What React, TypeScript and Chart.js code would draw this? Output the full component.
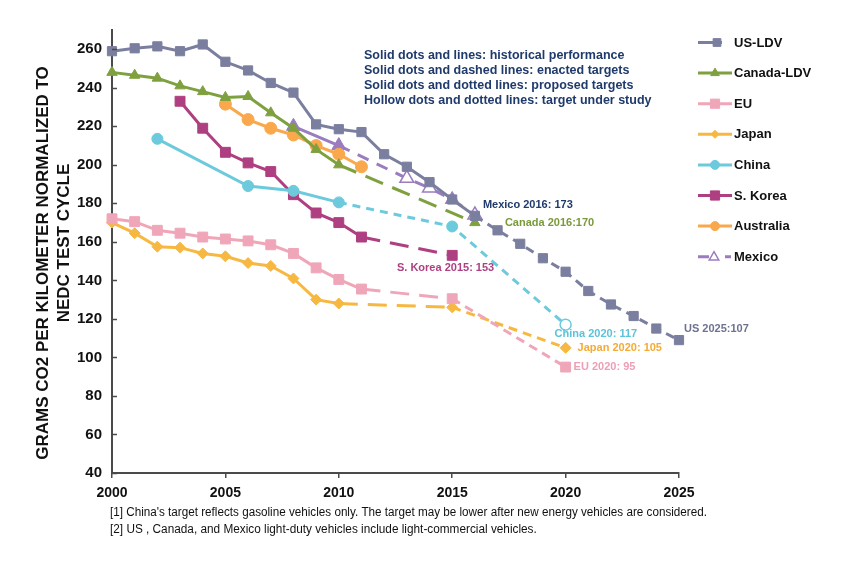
import React, { useEffect, useRef } from 'react';
import { Chart, registerables } from 'chart.js';

Chart.register(...registerables);

// ---------- data ----------
const usYears = [2000, 2001, 2002, 2003, 2004, 2005, 2006, 2007, 2008, 2009, 2010, 2011, 2012, 2013, 2014, 2015, 2016, 2017, 2018, 2019, 2020, 2021, 2022, 2023, 2024, 2025];
const usValues = [259, 260.5, 261.5, 259, 262.5, 253.5, 249, 242.5, 237.5, 221, 218.5, 217, 205.5, 199, 191, 182, 173.5, 166, 159, 151.5, 144.5, 134.5, 127.5, 121.5, 115, 109];

const canadaYears = [2000, 2001, 2002, 2003, 2004, 2005, 2006, 2007, 2008, 2009, 2010, 2016];
const canadaValues = [248, 246.5, 245, 241, 238, 235, 235.5, 227, 219, 208, 200, 170];

const euYears = [2000, 2001, 2002, 2003, 2004, 2005, 2006, 2007, 2008, 2009, 2010, 2011, 2015, 2020];
const euValues = [172, 170.5, 166, 164.5, 162.5, 161.5, 160.5, 158.5, 154, 146.5, 140.5, 135.5, 130.5, 95];

const japanYears = [2000, 2001, 2002, 2003, 2004, 2005, 2006, 2007, 2008, 2009, 2010, 2015, 2020];
const japanValues = [170, 164.5, 157.5, 157, 154, 152.5, 149, 147.5, 141, 130, 128, 126, 105];

const chinaYears = [2002, 2006, 2008, 2010, 2015, 2020];
const chinaValues = [213.5, 189, 186.5, 180.5, 168, 117];

const koreaYears = [2003, 2004, 2005, 2006, 2007, 2008, 2009, 2010, 2011, 2015];
const koreaValues = [233, 219, 206.5, 201, 196.5, 184.5, 175, 170, 162.5, 153];

const australiaYears = [2005, 2006, 2007, 2008, 2009, 2010, 2011];
const australiaValues = [231.5, 223.5, 219, 215.5, 210, 205.5, 199];

const mexicoYears = [2008, 2010, 2013, 2014, 2015, 2016];
const mexicoValues = [220, 210, 193, 188, 182, 174];

const chinaHollowYears = [2020];
const mexicoHollowYears = [2013, 2014, 2016];

const seriesNames = ['US-LDV', 'Canada-LDV', 'EU', 'Japan', 'China', 'S. Korea', 'Australia', 'Mexico'];
const xTickValues = [2000, 2005, 2010, 2015, 2020, 2025];
const yTickValues = [40, 60, 80, 100, 120, 140, 160, 180, 200, 220, 240, 260];

const noteLines = [
  'Solid dots and lines: historical performance',
  'Solid dots and dashed lines: enacted targets',
  'Solid dots and dotted lines: proposed targets',
  'Hollow dots and dotted lines: target under study',
];
const footnotes = [
  "[1] China's target reflects gasoline vehicles only. The target may be lower after new energy vehicles are considered.",
  '[2] US , Canada, and Mexico light-duty vehicles include light-commercial vehicles.',
];
const yTitleLines = ['GRAMS CO2 PER KILOMETER NORMALIZED TO', 'NEDC TEST CYCLE'];

// ---------- styles ----------
const FONT = '"Liberation Sans", Arial, Helvetica, sans-serif';
const LONG = [19, 10];
const SHORT = [9, 6];
const DOT = [8, 6];
const MEX = [12, 9];

type Series = {
  years: number[];
  values: number[];
  color: string;
  point: string;
  radius: number;
  dash: [number, number[]][];
  hollow: number[];
};

const seriesList: Series[] = [
  { years: usYears, values: usValues, color: '#7b7f9f', point: 'rect', radius: 6.5, dash: [[2016, SHORT]], hollow: [] },
  { years: canadaYears, values: canadaValues, color: '#7fa03f', point: 'triangle', radius: 6, dash: [[2010, LONG]], hollow: [] },
  { years: euYears, values: euValues, color: '#f0a6b9', point: 'rect', radius: 7, dash: [[2011, LONG], [2015, SHORT]], hollow: [] },
  { years: japanYears, values: japanValues, color: '#f7b842', point: 'rectRot', radius: 5.5, dash: [[2010, LONG], [2015, SHORT]], hollow: [] },
  { years: chinaYears, values: chinaValues, color: '#6ccadc', point: 'circle', radius: 5.5, dash: [[2010, DOT]], hollow: chinaHollowYears },
  { years: koreaYears, values: koreaValues, color: '#ae3f80', point: 'rect', radius: 7, dash: [[2011, LONG]], hollow: [] },
  { years: australiaYears, values: australiaValues, color: '#f9a94c', point: 'circle', radius: 6, dash: [], hollow: [] },
  { years: mexicoYears, values: mexicoValues, color: '#9a7cbf', point: 'triangle', radius: 8, dash: [[2010, MEX]], hollow: mexicoHollowYears },
];

function dashFor(rules: [number, number[]][], x: number): number[] {
  let d: number[] = [];
  for (const [from, pat] of rules) if (x >= from) d = pat;
  return d;
}

function drawMarker(ctx: CanvasRenderingContext2D, style: string, x: number, y: number, r: number, color: string, hollow: boolean) {
  ctx.save();
  ctx.beginPath();
  if (style === 'rect') {
    const s = r * Math.SQRT1_2;
    ctx.rect(x - s, y - s, 2 * s, 2 * s);
  } else if (style === 'rectRot') {
    ctx.moveTo(x - r, y);
    ctx.lineTo(x, y - r);
    ctx.lineTo(x + r, y);
    ctx.lineTo(x, y + r);
    ctx.closePath();
  } else if (style === 'triangle') {
    let a = 0;
    ctx.moveTo(x + Math.sin(a) * r, y - Math.cos(a) * r);
    a += (2 * Math.PI) / 3;
    ctx.lineTo(x + Math.sin(a) * r, y - Math.cos(a) * r);
    a += (2 * Math.PI) / 3;
    ctx.lineTo(x + Math.sin(a) * r, y - Math.cos(a) * r);
    ctx.closePath();
  } else {
    ctx.arc(x, y, r, 0, Math.PI * 2);
  }
  ctx.fillStyle = hollow ? '#ffffff' : color;
  ctx.fill();
  ctx.strokeStyle = color;
  ctx.lineWidth = hollow ? 1.5 : 1;
  ctx.stroke();
  ctx.restore();
}

const overlayPlugin = {
  id: 'overlay',
  afterDraw(chart: any) {
    const ctx: CanvasRenderingContext2D = chart.ctx;
    const xs = chart.scales.x;
    const ys = chart.scales.y;
    const area = chart.chartArea;
    ctx.save();

    // inner y tick marks
    ctx.strokeStyle = '#4a4a4a';
    ctx.lineWidth = 1.5;
    for (const v of yTickValues) {
      const py = Math.round(ys.getPixelForValue(v)) + 0.5;
      ctx.beginPath();
      ctx.moveTo(area.left, py);
      ctx.lineTo(area.left + 5, py);
      ctx.stroke();
    }

    // y axis title (two lines, rotated)
    ctx.save();
    ctx.translate(43, 263);
    ctx.rotate(-Math.PI / 2);
    ctx.fillStyle = '#111111';
    ctx.font = `bold 17px ${FONT}`;
    ctx.textAlign = 'center';
    ctx.textBaseline = 'middle';
    ctx.fillText(yTitleLines[0], 0, 0);
    ctx.fillText(yTitleLines[1], 20, 21);
    ctx.restore();

    // explanation notes
    ctx.fillStyle = '#1f3a6b';
    ctx.font = `bold 12.5px ${FONT}`;
    ctx.textAlign = 'left';
    ctx.textBaseline = 'middle';
    noteLines.forEach((t, i) => ctx.fillText(t, 364, 56 + i * 15));

    // point labels
    const px = (yr: number) => xs.getPixelForValue(yr);
    const py = (v: number) => ys.getPixelForValue(v);
    ctx.font = `bold 11px ${FONT}`;
    const lbl = (text: string, color: string, x: number, y: number, align: CanvasTextAlign = 'left') => {
      ctx.fillStyle = color;
      ctx.textAlign = align;
      ctx.fillText(text, x, y);
    };
    lbl('Mexico 2016: 173', '#1f3a6b', px(2016) + 8, py(173) - 12);
    lbl('Canada 2016:170', '#7a9a3a', px(2016) + 30, py(170) + 0);
    lbl('S. Korea 2015: 153', '#ae3f80', px(2015) + 42, py(153) + 13, 'right');
    lbl('China 2020: 117', '#5cc3d8', px(2020) - 11, py(117) + 9);
    lbl('Japan 2020: 105', '#f5ab35', px(2020) + 12, py(105));
    lbl('EU 2020: 95', '#ec9fb5', px(2020) + 8, py(95));
    lbl('US 2025:107', '#6e7290', px(2025) + 5, py(107) - 15);

    // legend
    ctx.font = `bold 13px ${FONT}`;
    ctx.textAlign = 'left';
    ctx.textBaseline = 'middle';
    seriesNames.forEach((name, i) => {
      const s = seriesList[i];
      const y = 42.5 + i * 30.6;
      ctx.strokeStyle = s.color;
      ctx.lineWidth = 3;
      ctx.setLineDash([]);
      if (i === 7) {
        ctx.beginPath();
        ctx.moveTo(698, y);
        ctx.lineTo(709, y);
        ctx.moveTo(725, y);
        ctx.lineTo(731, y);
        ctx.stroke();
        drawMarker(ctx, s.point, 714, y + 0.5, 5.5, s.color, true);
      } else {
        ctx.beginPath();
        ctx.moveTo(698, y);
        ctx.lineTo(i === 0 ? 722 : 732, y);
        ctx.stroke();
        const r = i === 0 ? 5.5 : i === 2 || i === 5 ? 6.5 : i === 3 ? 4 : i === 1 ? 5 : 4.5;
        drawMarker(ctx, s.point, i === 0 ? 717 : 715, y, r, s.color, false);
      }
      ctx.fillStyle = '#111111';
      ctx.fillText(name, 734, y + 0.5);
    });

    // footnotes
    ctx.fillStyle = '#111111';
    ctx.font = `12px ${FONT}`;
    ctx.textAlign = 'left';
    ctx.fillText(footnotes[0], 110, 513, 597);
    ctx.fillText(footnotes[1], 110, 530, 597 * (footnotes[1].length / footnotes[0].length) * 1.02);

    ctx.restore();
  },
};

export default function App() {
  const canvasRef = useRef<HTMLCanvasElement | null>(null);

  useEffect(() => {
    const canvas = canvasRef.current;
    if (!canvas) return;

    const datasets = seriesList.map((s, i) => ({
      label: seriesNames[i],
      data: s.years.map((yr, k) => ({ x: yr, y: s.values[k] })),
      borderColor: s.color,
      backgroundColor: s.color,
      borderWidth: 3,
      pointStyle: s.point,
      pointRadius: s.radius,
      pointHoverRadius: s.radius,
      pointBorderWidth: (c: any) => (s.hollow.includes(c.raw?.x) ? 1.5 : 1),
      pointBorderColor: s.color,
      pointBackgroundColor: (c: any) => (s.hollow.includes(c.raw?.x) ? '#ffffff' : s.color),
      tension: 0,
      clip: false as any,
      segment: {
        borderDash: (c: any) => dashFor(s.dash, c.p0.parsed.x),
      },
    }));

    const chart = new Chart(canvas, {
      type: 'line',
      data: { datasets },
      options: {
        responsive: false,
        animation: false,
        devicePixelRatio: 1,
        layout: { padding: { left: 0, right: 171, top: 30, bottom: 77 } },
        plugins: {
          legend: { display: false },
          tooltip: { enabled: false },
          title: { display: false },
        },
        scales: {
          x: {
            type: 'linear',
            min: 2000,
            max: 2025,
            afterBuildTicks: (scale: any) => {
              scale.ticks = xTickValues.map((v) => ({ value: v }));
            },
            afterFit: (scale: any) => {
              scale.height = 30;
            },
            ticks: {
              autoSkip: false,
              maxRotation: 0,
              padding: 7,
              color: '#111111',
              font: { family: FONT, size: 14, weight: 'bold' },
              callback: (v: any) => String(v),
            },
            grid: { display: true, drawOnChartArea: false, drawTicks: true, tickLength: 5, color: '#4a4a4a', lineWidth: 1.5 },
            border: { display: true, color: '#4a4a4a', width: 2 },
          },
          y: {
            type: 'linear',
            min: 40,
            max: 270,
            afterBuildTicks: (scale: any) => {
              scale.ticks = yTickValues.map((v) => ({ value: v }));
            },
            afterFit: (scale: any) => {
              scale.width = 112;
            },
            ticks: {
              padding: 10,
              color: '#111111',
              font: { family: FONT, size: 15, weight: 'bold' },
              callback: (v: any) => String(v),
            },
            grid: { display: false, drawTicks: false },
            border: { display: true, color: '#4a4a4a', width: 2 },
          },
        },
      },
      plugins: [overlayPlugin],
    } as any);

    return () => chart.destroy();
  }, []);

  return (
    <div style={{ position: 'fixed', left: 0, top: 0, width: 850, height: 580, background: '#ffffff' }}>
      <canvas ref={canvasRef} width={850} height={580} />
    </div>
  );
}
